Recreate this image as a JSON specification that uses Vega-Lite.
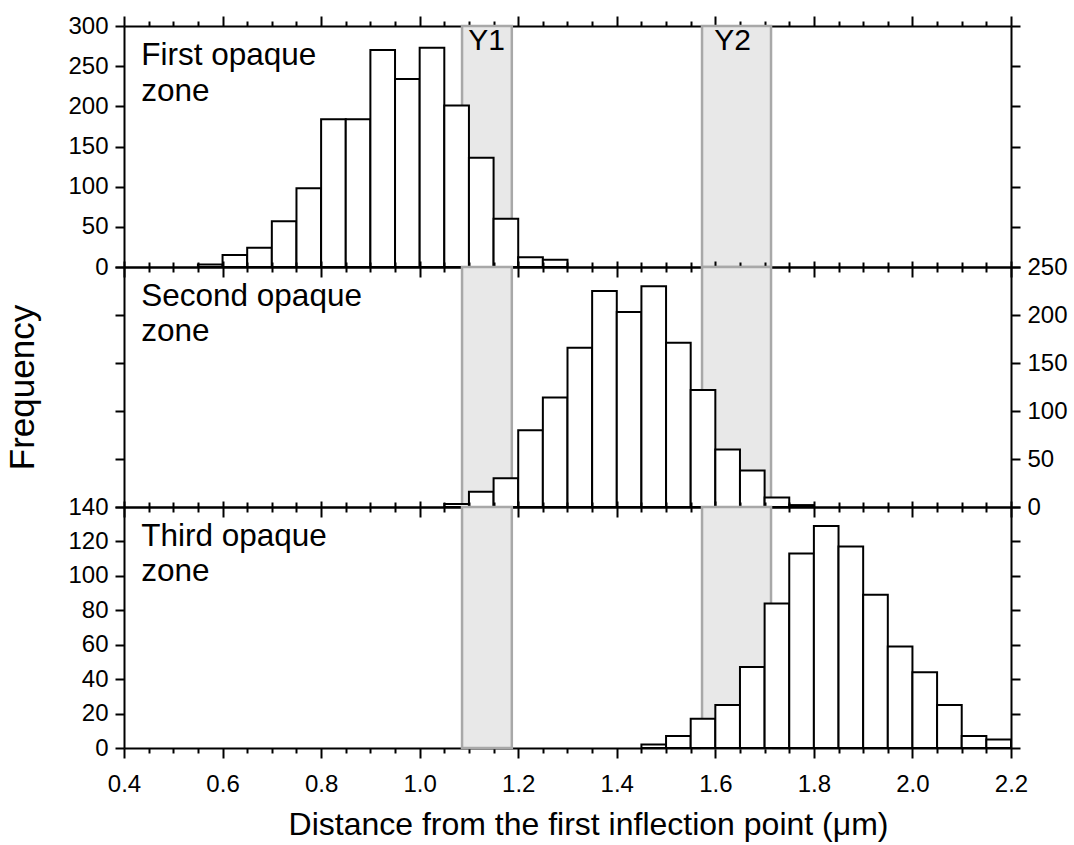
{
  "$schema": "https://vega.github.io/schema/vega-lite/v6.json",
  "background": "white",
  "padding": {"left": 4, "top": 14, "right": 5, "bottom": 5},
  "bounds": "flush",
  "spacing": 0,
  "resolve": {"scale": {"x": "independent", "y": "independent"}},
  "datasets": {
    "bars": [
      {"zone": "First", "start": 0.55, "end": 0.60, "count": 3},
      {"zone": "First", "start": 0.60, "end": 0.65, "count": 15},
      {"zone": "First", "start": 0.65, "end": 0.70, "count": 24},
      {"zone": "First", "start": 0.70, "end": 0.75, "count": 57},
      {"zone": "First", "start": 0.75, "end": 0.80, "count": 98},
      {"zone": "First", "start": 0.80, "end": 0.85, "count": 184},
      {"zone": "First", "start": 0.85, "end": 0.90, "count": 184},
      {"zone": "First", "start": 0.90, "end": 0.95, "count": 270},
      {"zone": "First", "start": 0.95, "end": 1.00, "count": 234},
      {"zone": "First", "start": 1.00, "end": 1.05, "count": 273},
      {"zone": "First", "start": 1.05, "end": 1.10, "count": 201},
      {"zone": "First", "start": 1.10, "end": 1.15, "count": 136},
      {"zone": "First", "start": 1.15, "end": 1.20, "count": 60},
      {"zone": "First", "start": 1.20, "end": 1.25, "count": 12},
      {"zone": "First", "start": 1.25, "end": 1.30, "count": 9},
      {"zone": "Second", "start": 1.05, "end": 1.10, "count": 3},
      {"zone": "Second", "start": 1.10, "end": 1.15, "count": 16},
      {"zone": "Second", "start": 1.15, "end": 1.20, "count": 30},
      {"zone": "Second", "start": 1.20, "end": 1.25, "count": 80},
      {"zone": "Second", "start": 1.25, "end": 1.30, "count": 114},
      {"zone": "Second", "start": 1.30, "end": 1.35, "count": 166},
      {"zone": "Second", "start": 1.35, "end": 1.40, "count": 225},
      {"zone": "Second", "start": 1.40, "end": 1.45, "count": 203},
      {"zone": "Second", "start": 1.45, "end": 1.50, "count": 230},
      {"zone": "Second", "start": 1.50, "end": 1.55, "count": 171},
      {"zone": "Second", "start": 1.55, "end": 1.60, "count": 122},
      {"zone": "Second", "start": 1.60, "end": 1.65, "count": 60},
      {"zone": "Second", "start": 1.65, "end": 1.70, "count": 38},
      {"zone": "Second", "start": 1.70, "end": 1.75, "count": 10},
      {"zone": "Second", "start": 1.75, "end": 1.80, "count": 2},
      {"zone": "Third", "start": 1.45, "end": 1.50, "count": 2},
      {"zone": "Third", "start": 1.50, "end": 1.55, "count": 7},
      {"zone": "Third", "start": 1.55, "end": 1.60, "count": 17},
      {"zone": "Third", "start": 1.60, "end": 1.65, "count": 25},
      {"zone": "Third", "start": 1.65, "end": 1.70, "count": 47},
      {"zone": "Third", "start": 1.70, "end": 1.75, "count": 84},
      {"zone": "Third", "start": 1.75, "end": 1.80, "count": 113},
      {"zone": "Third", "start": 1.80, "end": 1.85, "count": 129},
      {"zone": "Third", "start": 1.85, "end": 1.90, "count": 117},
      {"zone": "Third", "start": 1.90, "end": 1.95, "count": 89},
      {"zone": "Third", "start": 1.95, "end": 2.00, "count": 59},
      {"zone": "Third", "start": 2.00, "end": 2.05, "count": 44},
      {"zone": "Third", "start": 2.05, "end": 2.10, "count": 25},
      {"zone": "Third", "start": 2.10, "end": 2.15, "count": 7},
      {"zone": "Third", "start": 2.15, "end": 2.20, "count": 5}
    ],
    "bands": [
      {"band": "Y1", "x1": 1.086, "x2": 1.187},
      {"band": "Y2", "x1": 1.573, "x2": 1.713}
    ],
    "labels": [
      {"zone": "First", "label": "First opaque\nzone"},
      {"zone": "Second", "label": "Second opaque\nzone"},
      {"zone": "Third", "label": "Third opaque\nzone"}
    ]
  },
  "vconcat": [
    {
      "width": 887,
      "height": 241,
      "resolve": {"axis": {"x": "independent", "y": "independent"}},
      "layer": [
        {
          "data": {"name": "bands"},
          "mark": {"type": "rect", "fill": "#e8e8e8", "stroke": "#a8a8a8", "strokeWidth": 2.5},
          "encoding": {
            "x": {"field": "x1", "type": "quantitative", "scale": {"domain": [0.4, 2.2], "nice": false, "zero": false},
              "axis": {"orient": "bottom", "title": null, "labels": false,
                "values": [0.4,0.45,0.5,0.55,0.6,0.65,0.7,0.75,0.8,0.85,0.9,0.95,1,1.05,1.1,1.15,1.2,1.25,1.3,1.35,1.4,1.45,1.5,1.55,1.6,1.65,1.7,1.75,1.8,1.85,1.9,1.95,2,2.05,2.1,2.15,2.2],
                "tickSize": {"condition": {"test": "abs(datum.value*5 - round(datum.value*5)) < 0.001", "value": 10}, "value": 5}}},
            "x2": {"field": "x2"}
          }
        },
        {
          "data": {"name": "bars"},
          "transform": [{"filter": "datum.zone == 'First'"}],
          "mark": {"type": "rect", "fill": "white", "stroke": "black", "strokeWidth": 2},
          "encoding": {
            "x": {"field": "start", "type": "quantitative", "scale": {"domain": [0.4, 2.2], "nice": false, "zero": false},
              "axis": {"orient": "top", "title": null, "labels": false,
                "values": [0.4,0.45,0.5,0.55,0.6,0.65,0.7,0.75,0.8,0.85,0.9,0.95,1,1.05,1.1,1.15,1.2,1.25,1.3,1.35,1.4,1.45,1.5,1.55,1.6,1.65,1.7,1.75,1.8,1.85,1.9,1.95,2,2.05,2.1,2.15,2.2],
                "tickSize": {"condition": {"test": "abs(datum.value*5 - round(datum.value*5)) < 0.001", "value": 10}, "value": 5}}},
            "x2": {"field": "end"},
            "y": {"field": "count", "type": "quantitative", "scale": {"domain": [0, 300], "nice": false},
              "axis": {"orient": "left", "title": null, "values": [0,50,100,150,200,250,300], "tickSize": 9, "labelPadding": 7}},
            "y2": {"datum": 0}
          }
        },
        {
          "data": {"name": "labels"},
          "transform": [{"filter": "datum.zone == 'First'"}],
          "mark": {"type": "text", "align": "left", "baseline": "alphabetic", "font": "Liberation Sans", "fontSize": 31.5, "lineBreak": "\n", "lineHeight": 36, "color": "black"},
          "encoding": {
            "x": {"datum": 0.435, "type": "quantitative", "scale": {"domain": [0.4, 2.2], "nice": false, "zero": false}, "axis": null},
            "y": {"datum": 251.5, "type": "quantitative", "scale": {"domain": [0, 300], "nice": false},
              "axis": {"orient": "right", "title": null, "labels": false, "values": [0,50,100,150,200,250,300], "tickSize": 9}},
            "text": {"field": "label"}
          }
        },
        {
          "data": {"name": "bands"},
          "transform": [{"filter": "datum.band == 'Y1'"}],
          "mark": {"type": "text", "align": "center", "baseline": "alphabetic", "font": "Liberation Sans", "fontSize": 30, "color": "black"},
          "encoding": {
            "x": {"datum": 1.136, "type": "quantitative", "scale": {"domain": [0.4, 2.2], "nice": false, "zero": false}, "axis": null},
            "y": {"datum": 270, "type": "quantitative", "scale": {"domain": [0, 300], "nice": false}, "axis": null},
            "text": {"field": "band"}
          }
        },
        {
          "data": {"name": "bands"},
          "transform": [{"filter": "datum.band == 'Y2'"}],
          "mark": {"type": "text", "align": "center", "baseline": "alphabetic", "font": "Liberation Sans", "fontSize": 30, "color": "black"},
          "encoding": {
            "x": {"datum": 1.635, "type": "quantitative", "scale": {"domain": [0.4, 2.2], "nice": false, "zero": false}, "axis": null},
            "y": {"datum": 270, "type": "quantitative", "scale": {"domain": [0, 300], "nice": false}, "axis": null},
            "text": {"field": "band"}
          }
        }
      ]
    },
    {
      "width": 887,
      "height": 240,
      "resolve": {"axis": {"x": "independent", "y": "independent"}},
      "layer": [
        {
          "data": {"name": "bands"},
          "mark": {"type": "rect", "fill": "#e8e8e8", "stroke": "#a8a8a8", "strokeWidth": 2.5},
          "encoding": {
            "x": {"field": "x1", "type": "quantitative", "scale": {"domain": [0.4, 2.2], "nice": false, "zero": false},
              "axis": {"orient": "bottom", "title": null, "labels": false,
                "values": [0.4,0.45,0.5,0.55,0.6,0.65,0.7,0.75,0.8,0.85,0.9,0.95,1,1.05,1.1,1.15,1.2,1.25,1.3,1.35,1.4,1.45,1.5,1.55,1.6,1.65,1.7,1.75,1.8,1.85,1.9,1.95,2,2.05,2.1,2.15,2.2],
                "tickSize": {"condition": {"test": "abs(datum.value*5 - round(datum.value*5)) < 0.001", "value": 10}, "value": 5}}},
            "x2": {"field": "x2"}
          }
        },
        {
          "data": {"name": "bars"},
          "transform": [{"filter": "datum.zone == 'Second'"}],
          "mark": {"type": "rect", "fill": "white", "stroke": "black", "strokeWidth": 2},
          "encoding": {
            "x": {"field": "start", "type": "quantitative", "scale": {"domain": [0.4, 2.2], "nice": false, "zero": false},
              "axis": {"orient": "top", "title": null, "labels": false,
                "values": [0.4,0.45,0.5,0.55,0.6,0.65,0.7,0.75,0.8,0.85,0.9,0.95,1,1.05,1.1,1.15,1.2,1.25,1.3,1.35,1.4,1.45,1.5,1.55,1.6,1.65,1.7,1.75,1.8,1.85,1.9,1.95,2,2.05,2.1,2.15,2.2],
                "tickSize": {"condition": {"test": "abs(datum.value*5 - round(datum.value*5)) < 0.001", "value": 6}, "value": 5}}},
            "x2": {"field": "end"},
            "y": {"field": "count", "type": "quantitative", "scale": {"domain": [0, 250], "nice": false},
              "axis": {"orient": "left", "title": "Frequency", "labels": false, "values": [0,50,100,150,200,250], "tickSize": 9,
                "titleFontSize": 35, "titleAngle": -90, "titleX": -91, "titleY": 120, "titleAlign": "center", "titleBaseline": "alphabetic"}},
            "y2": {"datum": 0}
          }
        },
        {
          "data": {"name": "labels"},
          "transform": [{"filter": "datum.zone == 'Second'"}],
          "mark": {"type": "text", "align": "left", "baseline": "alphabetic", "font": "Liberation Sans", "fontSize": 31.5, "lineBreak": "\n", "lineHeight": 35, "color": "black"},
          "encoding": {
            "x": {"datum": 0.435, "type": "quantitative", "scale": {"domain": [0.4, 2.2], "nice": false, "zero": false}, "axis": null},
            "y": {"datum": 209, "type": "quantitative", "scale": {"domain": [0, 250], "nice": false},
              "axis": {"orient": "right", "title": null, "values": [0,50,100,150,200,250], "tickSize": 9, "labelPadding": 7}},
            "text": {"field": "label"}
          }
        }
      ]
    },
    {
      "width": 887,
      "height": 241,
      "resolve": {"axis": {"x": "independent", "y": "independent"}},
      "layer": [
        {
          "data": {"name": "bands"},
          "mark": {"type": "rect", "fill": "#e8e8e8", "stroke": "#a8a8a8", "strokeWidth": 2.5},
          "encoding": {
            "x": {"field": "x1", "type": "quantitative", "scale": {"domain": [0.4, 2.2], "nice": false, "zero": false},
              "axis": {"orient": "bottom", "title": "Distance from the first inflection point (μm)",
                "values": [0.4,0.45,0.5,0.55,0.6,0.65,0.7,0.75,0.8,0.85,0.9,0.95,1,1.05,1.1,1.15,1.2,1.25,1.3,1.35,1.4,1.45,1.5,1.55,1.6,1.65,1.7,1.75,1.8,1.85,1.9,1.95,2,2.05,2.1,2.15,2.2],
                "labelExpr": "abs(datum.value*5 - round(datum.value*5)) < 0.001 ? format(datum.value, '.1f') : ''",
                "labelPadding": 14, "labelBaseline": "top",
                "titleFontSize": 32, "titleX": 464, "titleY": 86.5, "titleAlign": "center", "titleBaseline": "alphabetic",
                "tickSize": {"condition": {"test": "abs(datum.value*5 - round(datum.value*5)) < 0.001", "value": 10}, "value": 5}}},
            "x2": {"field": "x2"}
          }
        },
        {
          "data": {"name": "bars"},
          "transform": [{"filter": "datum.zone == 'Third'"}],
          "mark": {"type": "rect", "fill": "white", "stroke": "black", "strokeWidth": 2},
          "encoding": {
            "x": {"field": "start", "type": "quantitative", "scale": {"domain": [0.4, 2.2], "nice": false, "zero": false},
              "axis": {"orient": "top", "title": null, "labels": false,
                "values": [0.4,0.45,0.5,0.55,0.6,0.65,0.7,0.75,0.8,0.85,0.9,0.95,1,1.05,1.1,1.15,1.2,1.25,1.3,1.35,1.4,1.45,1.5,1.55,1.6,1.65,1.7,1.75,1.8,1.85,1.9,1.95,2,2.05,2.1,2.15,2.2],
                "tickSize": {"condition": {"test": "abs(datum.value*5 - round(datum.value*5)) < 0.001", "value": 6}, "value": 5}}},
            "x2": {"field": "end"},
            "y": {"field": "count", "type": "quantitative", "scale": {"domain": [0, 140], "nice": false},
              "axis": {"orient": "left", "title": null, "values": [0,20,40,60,80,100,120,140], "tickSize": 9, "labelPadding": 7}},
            "y2": {"datum": 0}
          }
        },
        {
          "data": {"name": "labels"},
          "transform": [{"filter": "datum.zone == 'Third'"}],
          "mark": {"type": "text", "align": "left", "baseline": "alphabetic", "font": "Liberation Sans", "fontSize": 31.5, "lineBreak": "\n", "lineHeight": 35, "color": "black"},
          "encoding": {
            "x": {"datum": 0.435, "type": "quantitative", "scale": {"domain": [0.4, 2.2], "nice": false, "zero": false}, "axis": null},
            "y": {"datum": 117.2, "type": "quantitative", "scale": {"domain": [0, 140], "nice": false},
              "axis": {"orient": "right", "title": null, "labels": false, "values": [0,20,40,60,80,100,120,140], "tickSize": 9}},
            "text": {"field": "label"}
          }
        }
      ]
    }
  ],
  "config": {
    "view": {"stroke": null},
    "font": "Liberation Sans",
    "axis": {
      "domainColor": "black", "domainWidth": 2, "tickColor": "black", "tickWidth": 2,
      "labelFont": "Liberation Sans", "labelFontSize": 24, "labelColor": "black",
      "titleFont": "Liberation Sans", "titleColor": "black", "titleFontWeight": "normal",
      "grid": false, "zindex": 1, "labelOverlap": false, "labelBound": false, "labelFlush": false
    }
  }
}
